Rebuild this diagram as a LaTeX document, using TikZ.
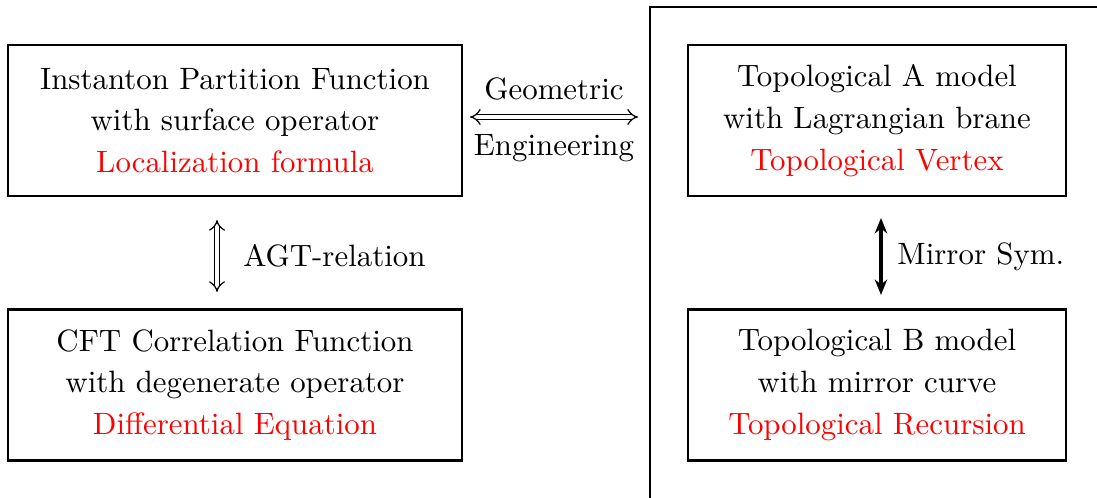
\documentclass[tikz,border=0pt]{standalone}
\usetikzlibrary{arrows.meta}

\begin{document}
\begin{tikzpicture}[
    x=0.01138cm, y=-0.01138cm,
    >=Stealth,
    model/.style={draw, line width=0.7pt, minimum width=5.167cm, minimum height=1.718cm,
        align=center, font=\fontsize{10}{13.5}\selectfont},
    string/.style={model, minimum width=4.302cm},
    dbl/.style={double, double distance=1.4pt, line width=0.4pt, {Implies}-{Implies}},
    mirror/.style={line width=1pt, {Stealth[length=5pt,width=4pt]}-{Stealth[length=5pt,width=4pt]}}
]
    \useasboundingbox (0,0) rectangle (1097,498);

    % --- Gauge theory side ---
    \node[model] (inst) at (235,120.5) {Instanton Partition Function\\with surface operator\\\textcolor{red}{Localization formula}};
    \node[model] (cft) at (235,385) {CFT Correlation Function\\with degenerate operator\\\textcolor{red}{Differential Equation}};

    % --- Topological string side ---
    \node[string] (amod) at (877,120.5) {Topological A model\\with Lagrangian brane\\\textcolor{red}{Topological Vertex}};
    \node[string] (bmod) at (877,385) {Topological B model\\with mirror curve\\\textcolor{red}{Topological Recursion}};

    % frame round the string side
    \draw[line width=0.7pt] (650,498) -- (650,7) -- (1097,7);

    % --- Relations ---
    \coordinate (ge-l) at (470,117);
    \coordinate (ge-r) at (638,117);
    \draw[dbl] (ge-l) -- (ge-r)
        node[midway, above=2pt] {Geometric}
        node[midway, below=2pt] {Engineering};

    \coordinate (agt-t) at (217,220);
    \coordinate (agt-b) at (217,292);
    \draw[dbl] (agt-t) -- (agt-b) node[midway, right=5pt] {AGT-relation};

    \coordinate (ms-t) at (881,218);
    \coordinate (ms-b) at (881,295);
    \draw[mirror] (ms-t) -- (ms-b) node[midway, right=1.5pt] {Mirror Sym.};

\end{tikzpicture}
\end{document}
